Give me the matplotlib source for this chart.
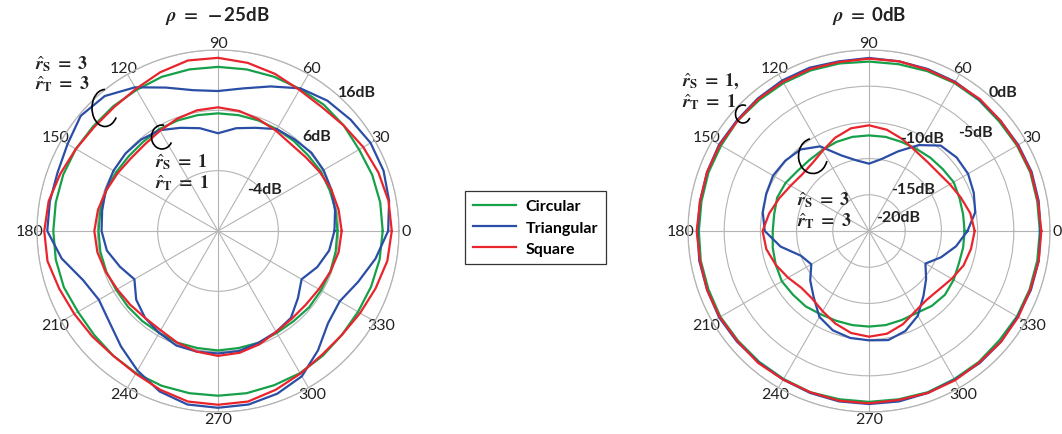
import numpy as np
import matplotlib
matplotlib.use('Agg')
import matplotlib.pyplot as plt
from matplotlib.patches import Arc

plt.rcParams['font.family'] = ['Lato', 'DejaVu Sans']
plt.rcParams['mathtext.fontset'] = 'stix'

# angles (deg) of the read-off points
angles = np.arange(0, 360, 10)

# rho = -25 dB, values in dB
l_circ_3 = [13.3, 13.3, 13.2, 13.0, 13.2, 13.3, 13.2, 13.2, 13.2, 13.2, 13.2, 13.2,
            13.0, 13.0, 13.0, 13.2, 13.3, 13.3, 13.3, 13.3, 13.2, 12.8, 12.8, 13.0,
            13.2, 13.3, 13.3, 13.3, 13.3, 13.2, 13.2, 13.0, 12.8, 12.8, 13.0, 13.2]
l_tri_3 = [14.2, 14.8, 15.2, 15.2, 14.7, 14.2, 13.3, 11.5, 10.0, 9.2, 9.7, 11.3,
           13.5, 15.2, 15.7, 14.8, 14.3, 14.3, 14.3, 12.3, 9.8, 8.8, 9.5, 11.0,
           12.7, 14.3, 15.2, 15.3, 15.2, 14.7, 13.8, 11.8, 9.8, 9.3, 10.7, 12.5]
l_sq_3 = [14.8, 14.7, 14.3, 13.8, 13.2, 12.8, 13.0, 13.7, 14.3, 14.7, 14.7, 14.0,
          13.2, 12.8, 12.8, 13.2, 13.8, 14.5, 14.8, 14.7, 14.0, 13.5, 13.2, 13.0,
          13.3, 14.0, 14.7, 14.8, 14.7, 14.0, 13.3, 12.8, 12.8, 13.2, 13.8, 14.5]
l_circ_1 = [5.8, 5.8, 5.7, 5.7, 5.5, 5.5, 5.5, 5.5, 5.5, 5.5, 5.5, 5.5,
            5.5, 5.3, 5.3, 5.5, 5.7, 5.8, 5.8, 5.8, 5.7, 5.5, 5.5, 5.5,
            5.5, 5.7, 5.7, 5.8, 5.7, 5.7, 5.5, 5.5, 5.7, 5.7, 5.8, 5.8]
l_tri_1 = [5.3, 5.7, 6.0, 6.2, 6.2, 5.8, 5.5, 4.2, 3.3, 2.2, 3.3, 4.2,
           5.3, 5.8, 6.0, 6.0, 5.8, 5.5, 5.3, 4.7, 3.3, 2.0, 3.7, 4.8,
           5.5, 6.2, 6.3, 6.3, 6.2, 5.7, 5.3, 4.8, 3.3, 2.0, 3.5, 4.7]
l_sq_1 = [6.5, 6.3, 6.0, 5.5, 5.0, 4.8, 5.2, 5.7, 6.2, 6.5, 6.3, 5.8,
          5.2, 4.8, 4.8, 5.2, 5.7, 6.2, 6.5, 6.3, 5.8, 5.3, 5.0, 4.8,
          5.0, 5.7, 6.3, 6.7, 6.5, 6.0, 5.3, 5.0, 5.0, 5.3, 5.8, 6.3]

# rho = 0 dB, values in dB
r_circ_1 = [-1.4, -1.4, -1.3, -1.4, -1.5, -1.4, -1.4, -1.5, -1.6, -1.6, -1.5, -1.4,
            -1.4, -1.4, -1.3, -1.4, -1.4, -1.5, -1.5, -1.4, -1.4, -1.3, -1.4, -1.4,
            -1.4, -1.3, -1.4, -1.4, -1.4, -1.3, -1.4, -1.4, -1.5, -1.4, -1.4, -1.4]
r_tri_1 = [-1.3, -1.2, -1.1, -1.2, -1.3, -1.3, -1.2, -1.2, -1.2, -1.1, -1.2, -1.0,
           -1.0, -1.1, -1.2, -1.1, -1.2, -1.3, -1.3, -1.2, -1.2, -1.1, -1.2, -1.3,
           -1.3, -1.2, -1.1, -1.1, -1.1, -1.2, -1.3, -1.2, -1.2, -1.3, -1.2, -1.2]
r_sq_1 = [-1.2, -1.3, -1.2, -1.3, -1.3, -1.2, -1.3, -1.3, -1.2, -1.2, -1.3, -1.2,
          -1.2, -1.2, -1.3, -1.2, -1.2, -1.3, -1.2, -1.3, -1.2, -1.2, -1.3, -1.2,
          -1.3, -1.3, -1.2, -1.2, -1.3, -1.2, -1.2, -1.3, -1.2, -1.2, -1.3, -1.2]
r_circ_3 = [-11.8, -11.8, -11.7, -11.5, -11.7, -11.8, -11.9, -11.9, -11.8, -11.8, -11.8, -11.9,
            -12.1, -12.2, -12.1, -11.7, -11.5, -11.7, -11.7, -11.5, -11.3, -11.1, -11.3, -11.4,
            -11.7, -11.8, -11.8, -11.8, -11.8, -11.9, -11.9, -11.5, -11.3, -11.5, -11.8, -11.8]
r_tri_3 = [-11.4, -10.1, -9.6, -9.2, -9.2, -9.6, -11.3, -13.3, -14.9, -15.7, -15.1, -13.9,
           -11.5, -10.3, -9.9, -9.7, -9.9, -10.1, -10.6, -12.6, -15.0, -15.8, -14.4, -13.1,
           -11.3, -10.4, -10.0, -9.9, -9.7, -10.3, -11.5, -13.3, -14.7, -16.0, -14.4, -12.8]
r_sq_3 = [-10.4, -10.8, -11.5, -12.1, -12.5, -12.5, -12.2, -11.5, -10.8, -10.4, -10.6, -11.3,
          -12.2, -12.8, -12.9, -12.5, -11.8, -11.0, -10.3, -10.6, -11.3, -12.1, -12.8, -12.8,
          -12.2, -11.4, -10.7, -10.4, -10.6, -11.3, -12.2, -12.6, -12.4, -11.8, -11.1, -10.7]

theta_labels = [str(a) for a in range(0, 360, 30)]
names = ['Circular', 'Triangular', 'Square']
colors = ['#17a04a', '#2a4ea6', '#e8242c']

W, H = 1062, 435
fig = plt.figure(figsize=(W / 100, H / 100), dpi=100)


def closed(v):
    v = list(v)
    return np.deg2rad(list(angles) + [angles[0]]), v + [v[0]]


def make_polar(left, rlim, rticks, groups):
    ax = fig.add_axes([left / W, 22 / H, 362 / W, 362 / H], projection='polar')
    for grp in groups:
        for vals, c, nm in zip(grp, colors, names):
            t, r = closed(vals)
            ax.plot(t, r, color=c, lw=1.6, label=nm)
    ax.set_rlim(*rlim)
    ax.set_rticks(rticks)
    ax.set_yticklabels([])
    ax.set_thetagrids(range(0, 360, 30), labels=theta_labels)
    ax.tick_params(axis='x', labelsize=11.5, labelcolor='#222222', pad=-5,
                   direction='out', length=3, width=0.8, color='#b4b4b4')
    ax.grid(color='#b4b4b4', lw=0.8)
    ax.spines['polar'].set_color('#b4b4b4')
    ax.spines['polar'].set_linewidth(0.9)
    return ax


axL = make_polar(37, (-14, 16), [-4, 6, 16],
                 [(l_circ_3, l_tri_3, l_sq_3), (l_circ_1, l_tri_1, l_sq_1)])
axR = make_polar(688, (-25, 0), [-20, -15, -10, -5, 0],
                 [(r_circ_1, r_tri_1, r_sq_1), (r_circ_3, r_tri_3, r_sq_3)])

h, l = axL.get_legend_handles_labels()
leg = fig.legend(h[:3], l[:3], loc='upper left', bbox_to_anchor=(465 / W, 1 - 192 / H),
                 borderaxespad=0, fancybox=False, edgecolor='#333333', framealpha=1,
                 prop={'weight': 'bold', 'size': 11.5}, handlelength=2.7,
                 labelspacing=0.45, borderpad=0.5, handletextpad=0.6)
leg.get_frame().set_linewidth(0.9)

# overlay in pixel coords (y up) for labels and marker arcs
ov = fig.add_axes([0, 0, 1, 1], zorder=5)
ov.set_xlim(0, W)
ov.set_ylim(0, H)
ov.axis('off')

ov.text(217, H - 16, r'$\mathbfit{\rho}\ \mathbf{=\ -}$25dB', ha='center', va='center',
        fontsize=13.5, fontweight='bold', color='#222222')
ov.text(869, H - 16, r'$\mathbfit{\rho}\ \mathbf{=}$ 0dB', ha='center', va='center',
        fontsize=13.5, fontweight='bold', color='#222222')

ring_labels = [(357, 93, '16dB'), (317, 137, '6dB'), (265, 190, '-4dB'),
               (1003, 93, '0dB'), (975, 133, '-5dB'), (922, 139, '-10dB'),
               (913, 190, '-15dB'), (898, 218, '-20dB')]
for x, y, s in ring_labels:
    ov.text(x, H - y, s, ha='center', va='center', fontsize=11.5, fontweight='bold',
            color='#222222')

ann = [(35, 64, 'S', '3'), (35, 84, 'T', '3'),
       (155, 162, 'S', '1'), (155, 183, 'T', '1'),
       (682, 81, 'S', '1,'), (682, 102, 'T', '1'),
       (797, 200, 'S', '3'), (797, 221, 'T', '3')]
for x, y, sub, val in ann:
    ov.text(x, H - y, r'$\hat{\mathbfit{r}}_{\mathbf{%s}}\ \mathbf{=\ %s}$' % (sub, val),
            ha='left', va='center', fontsize=13, color='#222222')

arcs = [(105, 109, 26, 37, 0, 90, 320), (162, 138, 21, 24, 0, 80, 330),
        (743, 115, 15, 18, 0, 70, 330), (813, 157, 29, 35, 0, 100, 340)]
for x, y, w, hh, ang, t1, t2 in arcs:
    ov.add_patch(Arc((x, H - y), w, hh, angle=ang, theta1=t1, theta2=t2,
                     color='black', lw=1.2))

fig.savefig('out.png', dpi=100)
